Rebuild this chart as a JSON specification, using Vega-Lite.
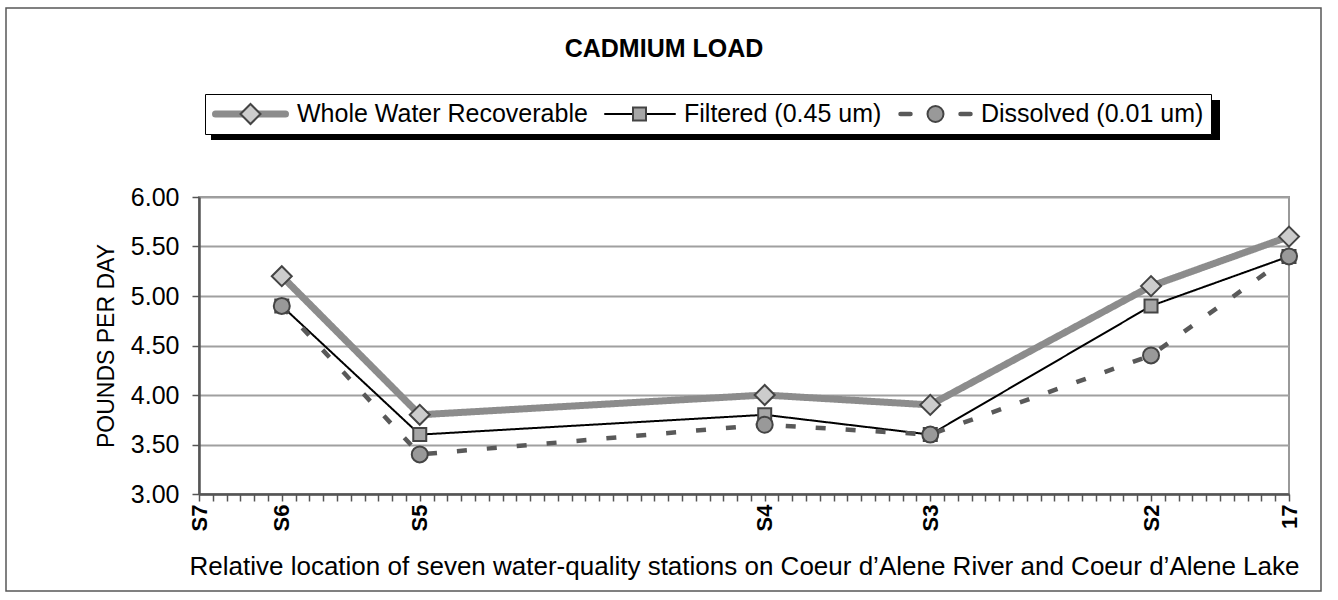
{
  "$schema": "https://vega.github.io/schema/vega-lite/v6.json",
  "autosize": {"type": "none"},
  "width": 1090,
  "height": 297,
  "padding": {"left": 199, "top": 197, "right": 49, "bottom": 106},
  "background": "#ffffff",
  "title": {"text": "CADMIUM LOAD", "font": "Liberation Sans", "fontSize": 25, "fontWeight": "bold", "color": "#000000", "anchor": "middle", "frame": "bounds", "offset": -74, "baseline": "alphabetic"},
  "data": {"values": [
    {"station": "S6", "location": 6, "whole": 5.2, "filtered": 4.9, "dissolved": 4.9},
    {"station": "S5", "location": 16, "whole": 3.8, "filtered": 3.6, "dissolved": 3.4},
    {"station": "S4", "location": 41, "whole": 4.0, "filtered": 3.8, "dissolved": 3.7},
    {"station": "S3", "location": 53, "whole": 3.9, "filtered": 3.6, "dissolved": 3.6},
    {"station": "S2", "location": 69, "whole": 5.1, "filtered": 4.9, "dissolved": 4.4},
    {"station": "17", "location": 79, "whole": 5.6, "filtered": 5.4, "dissolved": 5.4}
  ]},
  "encoding": {
    "x": {"field": "location", "type": "quantitative",
      "scale": {"domain": [0, 79], "nice": false, "zero": false},
      "axis": {
        "values": [0,1,2,3,4,5,6,7,8,9,10,11,12,13,14,15,16,17,18,19,20,21,22,23,24,25,26,27,28,29,30,31,32,33,34,35,36,37,38,39,40,41,42,43,44,45,46,47,48,49,50,51,52,53,54,55,56,57,58,59,60,61,62,63,64,65,66,67,68,69,70,71,72,73,74,75,76,77,78,79],
        "labelExpr": "datum.value == 0 ? 'S7' : datum.value == 6 ? 'S6' : datum.value == 16 ? 'S5' : datum.value == 41 ? 'S4' : datum.value == 53 ? 'S3' : datum.value == 69 ? 'S2' : datum.value == 79 ? '17' : ''",
        "labelAngle": 270, "labelFontWeight": "bold", "labelFontSize": 22, "labelColor": "#000000",
        "labelPadding": 3, "labelOverlap": false, "labelBound": false, "labelFlush": false,
        "tickSize": 7, "tickColor": "#555555", "tickWidth": 1.5,
        "domainColor": "#555555", "domainWidth": 2.5, "grid": false,
        "title": "Relative location of seven water-quality stations on Coeur d’Alene River and Coeur d’Alene Lake",
        "titleFontSize": 26, "titleFontWeight": "normal", "titleColor": "#000000", "titlePadding": 23
      }},
    "y": {"field": "value", "type": "quantitative",
      "scale": {"domain": [3, 6], "nice": false, "zero": false},
      "axis": {
        "values": [3, 3.5, 4, 4.5, 5, 5.5, 6], "format": ".2f",
        "labelFontSize": 25, "labelColor": "#000000", "labelPadding": 13, "labelFlush": false,
        "tickSize": 7, "tickColor": "#555555", "tickWidth": 1.5,
        "domainColor": "#555555", "domainWidth": 2.5,
        "grid": true, "gridColor": "#a0a0a0", "gridWidth": 2,
        "title": "POUNDS PER DAY", "titleFontSize": 23, "titleFontWeight": "normal", "titleColor": "#000000", "titlePadding": 12
      }}
  },
  "layer": [
    {
      "transform": [{"fold": ["whole", "filtered", "dissolved"], "as": ["shadowSeries", "value"]}],
      "mark": {"type": "point", "filled": true},
      "encoding": {
        "opacity": {"field": "shadowSeries", "type": "nominal", "sort": "descending",
          "scale": {"range": [0, 0, 0]},
          "legend": {"orient": "none", "legendX": 12, "legendY": -97, "direction": "horizontal", "title": null,
            "symbolType": "stroke", "symbolSize": 5625, "symbolStrokeWidth": 0,
            "labelFontSize": 25, "labelOpacity": 0, "labelOffset": 8, "labelLimit": 600,
            "labelExpr": "datum.label == 'whole' ? 'Whole Water Recoverable' : datum.label == 'filtered' ? 'Filtered (0.45 um)' : 'Dissolved (0.01 um)'",
            "columnPadding": 408, "padding": 7, "clipHeight": 26,
            "fillColor": "#000000"}},
        "color": {"field": "value", "type": "quantitative",
          "scale": {"range": ["rgba(0,0,0,0)", "rgba(0,0,0,0)"]},
          "legend": {"orient": "none", "legendX": -193, "legendY": -189, "direction": "horizontal", "title": null,
            "gradientLength": 1315, "gradientThickness": 583,
            "gradientStrokeColor": "#111111", "gradientStrokeWidth": 1.5,
            "labelOpacity": 0, "padding": 0, "tickCount": 2}}
      }
    },
    {
      "transform": [{"fold": ["whole", "filtered", "dissolved"], "as": ["series", "value"]}],
      "mark": {"type": "line", "strokeJoin": "round"},
      "encoding": {
        "stroke": {"field": "series", "type": "nominal", "sort": "descending",
          "scale": {"range": ["#8c8c8c", "#000000", "#595959"]},
          "legend": {"orient": "none", "legendX": 6, "legendY": -103, "direction": "horizontal", "title": null,
            "symbolType": "stroke", "symbolSize": 4900,
            "labelFontSize": 25, "labelColor": "#000000", "labelOffset": 8, "labelLimit": 600,
            "labelExpr": "datum.label == 'whole' ? 'Whole Water Recoverable' : datum.label == 'filtered' ? 'Filtered (0.45 um)' : 'Dissolved (0.01 um)'",
            "columnPadding": 16, "padding": 7, "clipHeight": 26,
            "fillColor": "#ffffff", "strokeColor": "#000000",
            "encode": {"symbols": {"update": {"strokeCap": {"value": "round"}}}}}},
        "strokeWidth": {"field": "series", "type": "nominal", "sort": "descending",
          "scale": {"type": "ordinal", "range": [7, 2, 4.5]}},
        "strokeDash": {"field": "series", "type": "nominal", "sort": "descending",
          "scale": {"range": [[1, 0], [1, 0], [10, 20]]}}
      }
    },
    {
      "transform": [{"fold": ["whole", "filtered", "dissolved"], "as": ["marker", "value"]}],
      "mark": {"type": "point", "filled": true, "opacity": 1, "stroke": "#444444", "strokeWidth": 2},
      "encoding": {
        "shape": {"field": "marker", "type": "nominal", "sort": "descending",
          "scale": {"range": ["diamond", "square", "circle"]},
          "legend": {"orient": "none", "legendX": 32, "legendY": -103, "direction": "horizontal", "title": null,
            "labelFontSize": 25, "labelOpacity": 0, "labelOffset": 8, "labelLimit": 600,
            "labelExpr": "datum.label == 'whole' ? 'Whole Water Recoverable' : datum.label == 'filtered' ? 'Filtered (0.45 um)' : 'Dissolved (0.01 um)'",
            "columnPadding": 65, "padding": 7, "clipHeight": 26,
            "symbolStrokeColor": "#444444", "symbolStrokeWidth": 2, "symbolOpacity": 1}},
        "fill": {"field": "marker", "type": "nominal", "sort": "descending",
          "scale": {"range": ["#cccccc", "#a6a6a6", "#999999"]}},
        "size": {"field": "marker", "type": "nominal", "sort": "descending",
          "scale": {"type": "ordinal", "range": [400, 169, 256]}}
      }
    }
  ],
  "config": {
    "font": "Liberation Sans",
    "view": {"stroke": "#999999", "strokeWidth": 2}
  }
}
